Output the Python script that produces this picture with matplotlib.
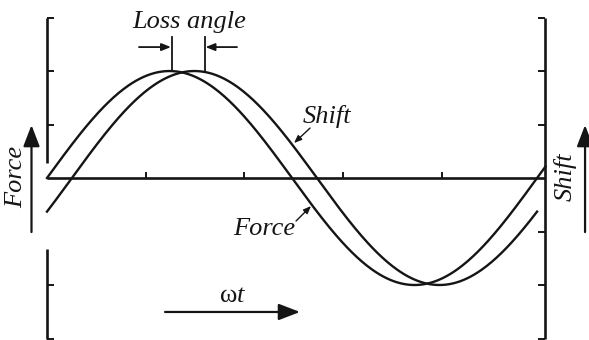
import numpy as np
import matplotlib
matplotlib.use("Agg")
import matplotlib.pyplot as plt
from matplotlib.patches import FancyArrowPatch

plt.rcParams['mathtext.fontset'] = 'custom'
plt.rcParams['mathtext.rm'] = 'Liberation Serif'
plt.rcParams['mathtext.it'] = 'Liberation Serif:italic'

# ---- data ----
period = 4.965          # length of one cycle in tick units
loss_angle_deg = 18.3   # phase lag of shift behind force
amplitude = 1.0
x_end_force = 5.05
x_end_shift = 4.965
y_ticks_left = [1.5, 1.0, 0.5, -1.0, -1.5]
y_ticks_right = [1.5, 1.0, 0.5, -0.5, -1.0, -1.5]
x_ticks = [1, 2, 3, 4]
labels = {"loss": "Loss angle", "force": "Force", "shift": "Shift", "time": r"$\mathrm{\omega}t$"}

lag = loss_angle_deg / 360.0 * period
xf = np.linspace(0, x_end_force, 400)
xs = np.linspace(0, x_end_shift, 400)
force = amplitude * np.sin(2 * np.pi * xf / period)
shift = amplitude * np.sin(2 * np.pi * (xs - lag) / period)

C = '#151515'
fig = plt.figure(figsize=(5.89, 3.40), dpi=100)
ax = fig.add_axes([0, 0, 1, 1])
ax.set_xlim(-0.476, 5.491)
ax.set_ylim(-1.514, 1.664)
ax.axis('off')

alw = 1.9
xr = 5.05
# axes
ax.plot([0, 0], [1.5, 0.14], color=C, lw=alw, solid_capstyle='butt')
ax.plot([0, 0], [-0.664, -1.5], color=C, lw=alw, solid_capstyle='butt')
ax.plot([xr, xr], [1.5, -1.5], color=C, lw=alw, solid_capstyle='butt')
ax.plot([0, xr], [0, 0], color=C, lw=alw, solid_capstyle='butt')
tl = 0.071
for y in y_ticks_left:
    ax.plot([0, tl], [y, y], color=C, lw=1.4, solid_capstyle='butt')
for y in y_ticks_right:
    ax.plot([xr - tl, xr], [y, y], color=C, lw=1.4, solid_capstyle='butt')
for x in x_ticks:
    ax.plot([x, x], [0, 0.056], color=C, lw=1.4, solid_capstyle='butt')

# curves
ax.plot(xf, force, color=C, lw=1.7)
ax.plot(xs, shift, color=C, lw=1.7)

font = dict(family='Liberation Serif', style='italic', size=19, color=C)

# loss angle
ax.text(1.439, 1.402, labels["loss"], ha='center', va='baseline', **font)
for xm in [1.266, 1.596]:
    ax.plot([xm, xm], [1.318, 1.0], color=C, lw=1.3)
def arrow(p0, p1, hl, hw, lw=1.2):
    a = FancyArrowPatch(p0, p1, arrowstyle=f'-|>,head_length={hl},head_width={hw}',
                        mutation_scale=10, color=C, lw=lw, shrinkA=0, shrinkB=0)
    ax.add_patch(a)
arrow((0.932, 1.224), (1.256, 1.224), 0.55, 0.22, lw=1.3)
arrow((1.925, 1.224), (1.606, 1.224), 0.55, 0.22, lw=1.3)

# curve labels
ax.text(2.594, 0.514, labels["shift"], ha='left', va='baseline', **font)
arrow((2.665, 0.467), (2.503, 0.327), 0.45, 0.18, lw=1.0)
ax.text(1.885, -0.533, labels["force"], ha='left', va='baseline', **font)
arrow((2.523, -0.402), (2.675, -0.262), 0.45, 0.18, lw=1.0)

# side labels with arrows
ax.text(-0.314, 0.009, labels["force"], ha='center', va='center', rotation=90, **font)
arrow((-0.157, -0.505), (-0.157, 0.495), 1.3, 0.5, lw=1.6)
ax.text(5.248, 0.009, labels["shift"], ha='center', va='center', rotation=90, **font)
arrow((5.451, -0.505), (5.451, 0.495), 1.3, 0.5, lw=1.6)

# time axis label
ax.text(1.885, -1.159, labels["time"], ha='center', va='baseline',
        fontsize=19, color=C)
arrow((1.196, -1.252), (2.563, -1.252), 1.3, 0.5, lw=1.6)

fig.savefig('out.png', dpi=100)
